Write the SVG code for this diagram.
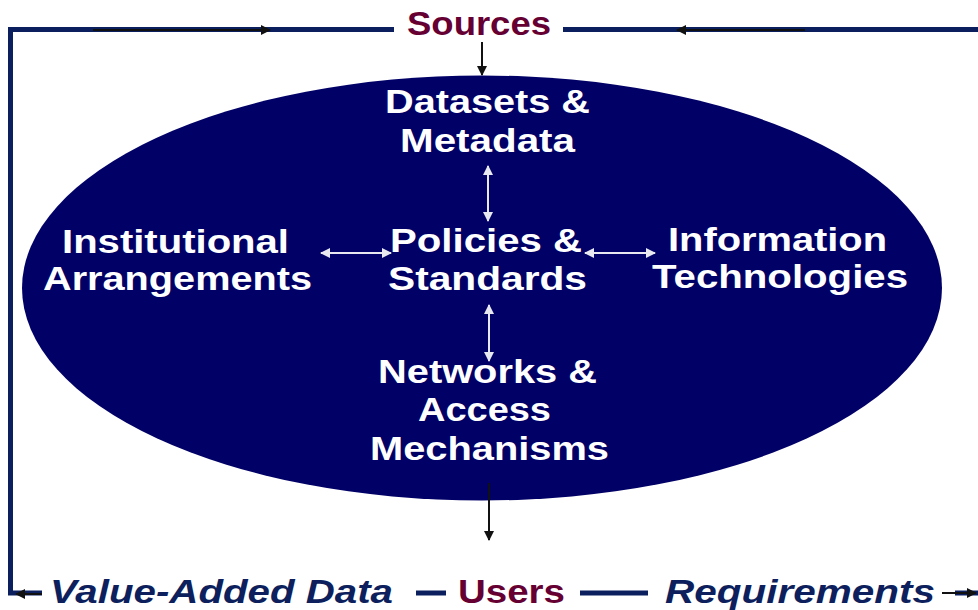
<svg xmlns="http://www.w3.org/2000/svg" width="978" height="610" viewBox="0 0 978 610">
<defs>
<style>
.frame{stroke:#0b1f5e;stroke-width:5;fill:none}
.blk{stroke:#111;stroke-width:2;fill:none}
.wht{stroke:#e8e8f0;stroke-width:2;fill:none}
.t{font-family:"Liberation Sans",Arial,sans-serif;font-weight:bold;font-size:33px;fill:#ffffff;text-anchor:start}
.m{fill:#660033}
.n{fill:#0d1f5c;font-style:italic}
</style>
<marker id="ab" viewBox="0 0 10 10" refX="9" refY="5" markerWidth="5" markerHeight="5" orient="auto-start-reverse"><path d="M0,0 L10,5 L0,10 Z" fill="#111"/></marker>
<marker id="aw" viewBox="0 0 10 10" refX="9" refY="5" markerWidth="5" markerHeight="5" orient="auto-start-reverse"><path d="M0,0 L10,5 L0,10 Z" fill="#e8e8f0"/></marker>
</defs>
<rect width="978" height="610" fill="#ffffff"/>
<g id="frame">
<path class="frame" d="M394,29.5 H10.5 V593 H42"/>
<path class="frame" d="M563,29.5 H978"/>
<path class="frame" d="M416,593 H446"/>
<path class="frame" d="M580,593 H648"/>
<path class="frame" d="M955,593 H978"/>
</g>
<g id="ellipse"><ellipse cx="482" cy="288" rx="460" ry="212.5" fill="#000066"/></g>
<g id="connectors">
<line class="blk" x1="93" y1="30" x2="270" y2="30" marker-end="url(#ab)"/>
<line class="blk" x1="805" y1="30" x2="677" y2="30" marker-end="url(#ab)"/>
<line class="blk" x1="482" y1="42" x2="482" y2="75" marker-end="url(#ab)"/>
<line class="blk" x1="489" y1="483" x2="489" y2="540" marker-end="url(#ab)"/>
<line class="blk" x1="42" y1="594" x2="16" y2="594" marker-end="url(#ab)"/>
<line class="blk" x1="942" y1="593" x2="976" y2="593" marker-end="url(#ab)"/>
<line class="wht" x1="488" y1="166" x2="488" y2="221" marker-start="url(#aw)" marker-end="url(#aw)"/>
<line class="wht" x1="489" y1="305" x2="489" y2="361" marker-start="url(#aw)" marker-end="url(#aw)"/>
<line class="wht" x1="321" y1="253" x2="391" y2="253" marker-start="url(#aw)" marker-end="url(#aw)"/>
<line class="wht" x1="585" y1="253" x2="655" y2="253" marker-start="url(#aw)" marker-end="url(#aw)"/>
</g>
<g id="sources"><text class="t m" x="407" y="35" textLength="144" lengthAdjust="spacingAndGlyphs">Sources</text></g>
<g id="datasets">
<text class="t" x="385" y="113" textLength="205" lengthAdjust="spacingAndGlyphs">Datasets &amp;</text>
<text class="t" x="400" y="152" textLength="175" lengthAdjust="spacingAndGlyphs">Metadata</text>
</g>
<g id="policies">
<text class="t" x="390" y="252" textLength="192" lengthAdjust="spacingAndGlyphs">Policies &amp;</text>
<text class="t" x="388" y="290" textLength="199" lengthAdjust="spacingAndGlyphs">Standards</text>
</g>
<g id="institutional">
<text class="t" x="62" y="253" textLength="227" lengthAdjust="spacingAndGlyphs">Institutional</text>
<text class="t" x="43" y="290" textLength="269" lengthAdjust="spacingAndGlyphs">Arrangements</text>
</g>
<g id="information">
<text class="t" x="668" y="251" textLength="219" lengthAdjust="spacingAndGlyphs">Information</text>
<text class="t" x="652" y="288" textLength="256" lengthAdjust="spacingAndGlyphs">Technologies</text>
</g>
<g id="networks">
<text class="t" x="378" y="383" textLength="219" lengthAdjust="spacingAndGlyphs">Networks &amp;</text>
<text class="t" x="418" y="421" textLength="133" lengthAdjust="spacingAndGlyphs">Access</text>
<text class="t" x="370" y="460" textLength="239" lengthAdjust="spacingAndGlyphs">Mechanisms</text>
</g>
<g id="value-added"><text class="t n" x="50" y="603" textLength="343" lengthAdjust="spacingAndGlyphs">Value-Added Data</text></g>
<g id="users"><text class="t m" x="458" y="603" textLength="107" lengthAdjust="spacingAndGlyphs">Users</text></g>
<g id="requirements"><text class="t n" x="665" y="603" textLength="270" lengthAdjust="spacingAndGlyphs">Requirements</text></g>
</svg>
